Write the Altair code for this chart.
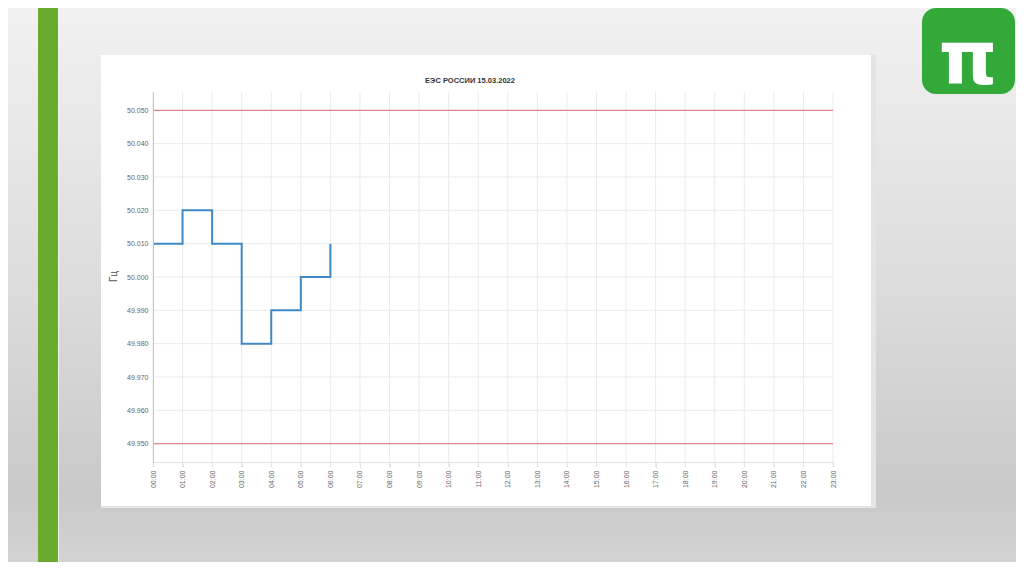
import altair as alt
import pandas as pd

# ---- data ----
hours = [0, 1, 2, 3, 4, 5, 6]
freq = [50.010, 50.020, 50.010, 49.980, 49.990, 50.000, 50.010]
limits = [50.050, 49.950]
hour_ticks = list(range(24))
hour_labels = ["%02d:00" % h for h in hour_ticks]
y_ticks = [49.95, 49.96, 49.97, 49.98, 49.99, 50.00, 50.01, 50.02, 50.03, 50.04, 50.05]
title_text = "ЕЭС РОССИИ 15.03.2022"
y_title = "Гц"

# ---- layout (pixels) ----
W, H = 680, 370
PAD_L, PAD_T, PAD_R, PAD_B = 145, 84, 183, 100
Y_DOMAIN = [49.9445, 50.0555]
X_DOMAIN = [0, 23]

one = alt.Data(values=[{"k": 1}])

xs = alt.Scale(domain=X_DOMAIN, nice=False, zero=False)
ys = alt.Scale(domain=Y_DOMAIN, nice=False, zero=False)

# slide background gradient
bg = alt.Chart(one).mark_rect(
    color=alt.LinearGradient(
        gradient="linear",
        stops=[
            alt.GradientStop(color="#f1f1f1", offset=0),
            alt.GradientStop(color="#dcdcdc", offset=0.5),
            alt.GradientStop(color="#c9c9c9", offset=0.88),
            alt.GradientStop(color="#d3d3d3", offset=1),
        ],
        x1=0, x2=0, y1=0, y2=1,
    )
).encode(x=alt.value(-PAD_L), x2=alt.value(W + PAD_R), y=alt.value(-PAD_T), y2=alt.value(H + PAD_B))

green_bar = alt.Chart(one).mark_rect(color="#6aab2e").encode(
    x=alt.value(-115), x2=alt.value(-95), y=alt.value(-PAD_T), y2=alt.value(H + PAD_B)
)
green_edge = alt.Chart(one).mark_rect(color="#eef3e8").encode(
    x=alt.value(-95), x2=alt.value(-94), y=alt.value(-PAD_T), y2=alt.value(H + PAD_B)
)

shadow = alt.Chart(one).mark_rect(color="#e4e4e4").encode(
    x=alt.value(-52), x2=alt.value(723), y=alt.value(-37), y2=alt.value(416)
)
panel = alt.Chart(one).mark_rect(color="#ffffff").encode(
    x=alt.value(-52), x2=alt.value(718), y=alt.value(-37), y2=alt.value(414)
)

logo_box = alt.Chart(one).mark_rect(color="#33a93a", cornerRadius=14).encode(
    x=alt.value(769), x2=alt.value(862), y=alt.value(-84), y2=alt.value(2)
)
logo_text = alt.Chart(one).mark_text(
    text="π", font="DejaVu Sans", fontWeight="bold", fontSize=74, color="#ffffff",
    align="center", baseline="alphabetic"
).encode(x=alt.value(815), y=alt.value(-8))

# grid
vgrid_df = pd.DataFrame({"h": hour_ticks})
hgrid_df = pd.DataFrame({"v": y_ticks, "x0": X_DOMAIN[0], "x1": X_DOMAIN[1]})

vgrid = alt.Chart(vgrid_df).mark_rule(color="#ebebeb", strokeWidth=1).encode(
    x=alt.X("h:Q", scale=xs), y=alt.value(0), y2=alt.value(H + 5)
)
hgrid = alt.Chart(hgrid_df).mark_rule(color="#ebebeb", strokeWidth=1).encode(
    y=alt.Y("v:Q", scale=ys), x=alt.X("x0:Q", scale=xs), x2="x1:Q"
)

lim_df = pd.DataFrame({"v": limits, "x0": X_DOMAIN[0], "x1": X_DOMAIN[1]})
lim = alt.Chart(lim_df).mark_rule(color="#e2868c", strokeWidth=1.3).encode(
    y=alt.Y("v:Q", scale=ys), x=alt.X("x0:Q", scale=xs), x2="x1:Q"
)

label_expr = "[" + ",".join("'%s'" % s for s in hour_labels) + "][datum.value]"

line_df = pd.DataFrame({"h": hours, "f": freq})
line = alt.Chart(line_df).mark_line(
    interpolate="step-after", color="#3f8ac6", strokeWidth=2
).encode(
    x=alt.X("h:Q", scale=xs, axis=alt.Axis(
        values=hour_ticks, tickCount=len(hour_ticks), labelExpr=label_expr,
        labelAngle=-90, labelFontSize=7,
        labelColor="#666666", labelFont="Liberation Sans", labelPadding=3,
        grid=False, domainColor="#e3e3e3", tickColor="#e3e3e3", tickSize=5,
        title=None, zindex=1, labelOverlap=False, labelFlush=False)),
    y=alt.Y("f:Q", scale=ys, axis=alt.Axis(
        values=y_ticks, tickCount=len(y_ticks), format=".3f", labelFontSize=7,
        labelColor="#666666",
        labelFont="Liberation Sans", labelPadding=5, grid=False,
        domainColor="#c4c4c4", ticks=False, title=y_title, titleFontSize=10,
        titleFont="Liberation Sans", titleColor="#555555", titleFontWeight="normal",
        titleAngle=-90, titleX=-40, titleY=184, titleAlign="center",
        titleBaseline="middle", zindex=1, labelOverlap=False, labelFlush=False)),
)

title = alt.Chart(one).mark_text(
    text=title_text, font="Liberation Sans", fontSize=7.5, fontWeight="bold",
    color="#333333", align="center", baseline="middle"
).encode(x=alt.value(317), y=alt.value(-11))

chart = alt.layer(
    bg, green_bar, green_edge, shadow, panel, logo_box, logo_text,
    vgrid, hgrid, lim, line, title
).properties(
    width=W, height=H,
    padding={"left": PAD_L, "top": PAD_T, "right": PAD_R, "bottom": PAD_B},
    autosize=alt.AutoSizeParams(type="none"),
).configure_view(stroke=None)

chart.save("out.html", embed_options={"renderer": "svg", "actions": False})
